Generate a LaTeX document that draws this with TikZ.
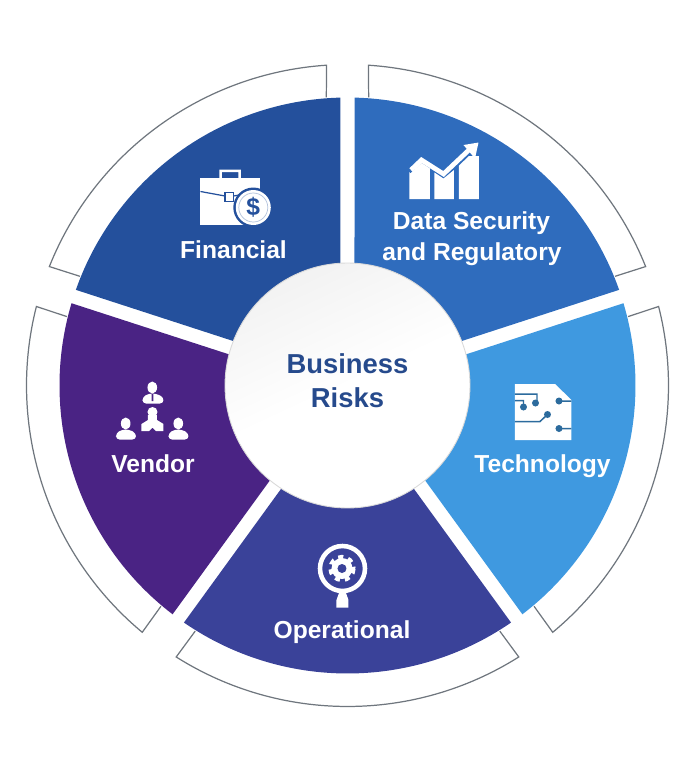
\documentclass[tikz,border=0pt]{standalone}
\usepackage{fontspec}
\setmainfont{Liberation Sans}
\usepackage{tikz}

\definecolor{finblue}{HTML}{24509C}
\definecolor{datablue}{HTML}{2F6CBD}
\definecolor{techblue}{HTML}{3F99E0}
\definecolor{operblue}{HTML}{3A4299}
\definecolor{vendpurple}{HTML}{4A2384}
\definecolor{riskblue}{HTML}{264A8C}
\definecolor{bandgray}{HTML}{6F767E}

\tikzset{
    slice/.style={draw=none},
    band/.style={draw=bandgray, line width=0.7pt, line join=miter},
    label/.style={text=white, font=\bfseries\fontsize{14}{16}\selectfont, align=center, inner sep=0pt},
    hub/.style={font=\bfseries\fontsize{15.6}{18.7}\selectfont, text=riskblue, align=center, inner sep=0pt}
}

% slice between the gap lines at angles #1 > #2
\newcommand{\riskslice}[3]{
    \fill[slice, #3] (#1-1.4:288) arc[start angle=#1-1.4, end angle=#2+1.4, radius=288] -- (#2+3.4:118) arc[start angle=#2+3.4, end angle=#1-3.4, radius=118] -- cycle;
}
% open band outside a slice
\newcommand{\riskband}[2]{
    \draw[band] (#1-4.2:289) -- (#1-3.75:321) arc[start angle=#1-3.75, end angle=#2+3.75, radius=321] -- (#2+4.2:289);
}

\begin{document}
\begin{tikzpicture}[x=0.02cm, y=0.02cm]
    \useasboundingbox (-347.5,-386.5) rectangle (352.5,385.5);

    \riskslice{90}{18}{datablue}
    \riskslice{18}{-54}{techblue}
    \riskslice{-54}{-126}{operblue}
    \riskslice{-126}{-198}{vendpurple}
    \riskslice{162}{90}{finblue}

    \riskband{90}{18}
    \riskband{18}{-54}
    \riskband{-54}{-126}
    \riskband{-126}{-198}
    \riskband{162}{90}

    \node (Hub) at (0,0) [circle, minimum size=4.9cm, inner sep=0pt, draw=white!85!black, line width=0.5pt, shading=axis, top color=black!5, bottom color=white, middle color=white, shading angle=25] {};

    \begin{scope}[shift={(-347.5,385.5)}, yscale=-1]
        \node (Business) at (347.5,364) [hub] {Business};
        \node (Risks) at (347.5,397.5) [hub] {Risks};

        \node (Financial) at (233.5,250) [label] {Financial};
        \node (DataOne) at (471.5,223) [label] {Data Security};
        \node (DataTwo) at (472,254) [label] {and Regulatory};
        \node (Technology) at (542.5,466) [label] {Technology};
        \node (Vendor) at (153,464) [label] {Vendor};
        \node (Operational) at (342,632) [label] {Operational};

        % briefcase
        \fill[white, even odd rule] (219.5,178.5) -- (219.5,169.5) -- (241,169.5) -- (241,178.5) -- (238.5,178.5) -- (238.5,172) -- (222,172) -- (222,178.5) -- cycle;
        \fill[white] (200.5,178) rectangle (260,225);
        \draw[finblue, line width=0.7pt] (200.5,191.5) -- (225,196) (233.5,196) -- (260,191.5);
        \draw[finblue, fill=white, line width=0.7pt] (225,192.5) rectangle (233.5,201.5);
        \fill[finblue] (253.3,207.5) circle (20);
        \fill[white] (253.3,207.5) circle (17.5);
        \draw[finblue!35, line width=0.4pt] (253.3,207.5) circle (14.5);
        \node (Dollar) at (253.3,207.5) [text=finblue, inner sep=0pt, font=\bfseries\fontsize{14}{14}\selectfont] {\$};

        % rising chart
        \fill[white] (409.5,199) -- (409.5,172) -- (421.5,162) -- (430,167.5) -- (430,199) -- cycle;
        \fill[white] (434.5,199) -- (434.5,172.5) -- (443.5,178.5) -- (454,170) -- (454,199) -- cycle;
        \fill[white] (459,199) -- (459,165.5) -- (469,156) -- (479,156) -- (479,199) -- cycle;
        \draw[datablue, line width=1.6pt] (409.5,172) -- (421.5,161) -- (443.5,175.5) -- (470,152);
        \draw[white, line width=2.7pt] (411,170) -- (421.5,160) -- (443.5,174) -- (470,149);
        \fill[white] (463.5,145) -- (478.5,142.5) -- (475,158.5) -- cycle;

        % chip sheet
        \fill[white] (515,384) -- (555,384) -- (571.5,400) -- (571.5,440) -- (515,440) -- cycle;
        \draw[techblue!70!black, line width=0.85pt] (515,394) -- (537,394) -- (537,403) (515,400.5) -- (523.5,400.5) -- (523.5,407) (515,421.5) -- (540,421.5) -- (547.5,414.5) (559,401) -- (571.5,401) (559,428.5) -- (571.5,428.5);
        \fill[techblue!70!black] (535.5,403) circle (3.5);
        \fill[techblue!70!black] (523.5,407) circle (3.5);
        \fill[techblue!70!black] (547.5,414.5) circle (3.5);
        \fill[techblue!70!black] (559,401) circle (3.5);
        \fill[techblue!70!black] (559,428.5) circle (3.5);

        % people
        \fill[white] (152.3,387.5) ellipse (4.8 and 6);
        \fill[white, rounded corners=2] (142.5,403.5) -- (142.5,397) -- (149,393.5) -- (155.5,393.5) -- (163.5,397) -- (163.5,403.5) -- cycle;
        \fill[white] (125.7,423.5) ellipse (4.8 and 6);
        \fill[white, rounded corners=2] (116,439.5) -- (116,433) -- (122.5,429.5) -- (129,429.5) -- (136,433) -- (136,439.5) -- cycle;
        \fill[white] (178.3,423.5) ellipse (4.8 and 6);
        \fill[white, rounded corners=2] (168.5,439.5) -- (168.5,433) -- (175,429.5) -- (181.5,429.5) -- (188.5,433) -- (188.5,439.5) -- cycle;
        \fill[vendpurple] (151.5,394) -- (153.5,394) -- (153.3,401) -- (151.7,401) -- cycle;
        \fill[white] (152.5,412) circle (5);
        \fill[white] (148,415) -- (157,415) -- (157,420) -- (163.5,424) -- (163.5,431) -- (156,431) -- (152.5,427.5) -- (149,431) -- (141.5,431) -- (141.5,424) -- (148,420) -- cycle;

        % gear and magnifier
        \draw[white, line width=2.6pt] (342.5,568.5) circle (22.5);
        \fill[white] (339,593) -- (346,593) -- (348.5,600) -- (348.5,607.5) -- (336.5,607.5) -- (336.5,600) -- cycle;
        \fill[white] (342,568.5) circle (10.5);
        \draw[white, line width=2.2pt, dash pattern=on 2.9pt off 2.9pt] (342,568.5) circle (11.7);
        \fill[operblue] (342,568.5) circle (4.5);
    \end{scope}
\end{tikzpicture}
\end{document}
